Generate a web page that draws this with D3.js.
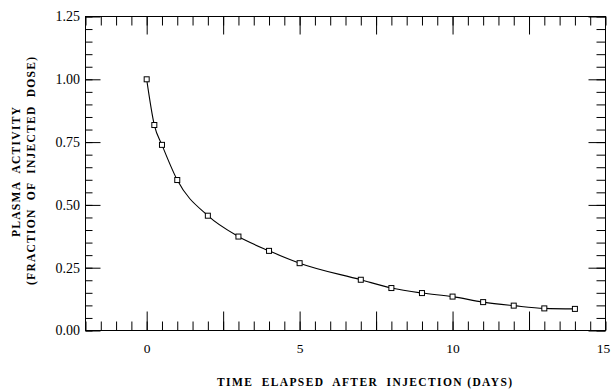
<!DOCTYPE html>
<html>
<head>
<meta charset="utf-8">
<script src="https://cdn.jsdelivr.net/npm/d3@7"></script>
<style>
  html, body { margin: 0; padding: 0; background: #fff; }
  svg { display: block; }
  text { font-family: "Liberation Serif", "Times New Roman", serif; fill: #000; }
</style>
</head>
<body>
<svg id="chart" width="611" height="391"></svg>
<script>
// ---- data ----
const days = [0, 0.25, 0.5, 1, 2, 3, 4, 5, 7, 8, 9, 10, 11, 12, 13, 14];
const activity = [1.00, 0.818, 0.739, 0.599, 0.457, 0.374, 0.317, 0.268, 0.202, 0.169, 0.149, 0.135, 0.113, 0.099, 0.088, 0.086];
const xTickLabels = [0, 5, 10, 15];
const xMajorTicks = [0, 2.5, 5, 7.5, 10, 12.5];
const yTickLabels = [0, 0.25, 0.5, 0.75, 1.0, 1.25];
const xTitle = "TIME  ELAPSED  AFTER  INJECTION (DAYS)";
const yTitle1 = "PLASMA  ACTIVITY";
const yTitle2 = "(FRACTION  OF  INJECTED  DOSE)";

// ---- layout ----
const L = 85.5, R = 605.5, T = 16.5, B = 330.5;
const svg = d3.select("#chart");

const x = d3.scaleLinear().domain([-2, 15]).range([L, R]);
const y = d3.scaleLinear().domain([0, 1.25]).range([B, T]);

const xMinor = d3.range(-4, 31).map(i => i / 2);
const yMinor = d3.range(0, 26).map(i => i / 20);

function styleAxis(g) {
  g.select(".domain").remove();
  g.attr("font-family", null);
  g.selectAll(".tick line").attr("stroke", "#000").attr("stroke-width", 1);
  g.selectAll("text").attr("fill", "#000");
}

// bottom ticks
svg.append("g").attr("transform", `translate(0,${B})`)
  .call(d3.axisBottom(x).tickValues(xMinor).tickSize(-9).tickFormat(""))
  .call(styleAxis);
svg.append("g").attr("transform", `translate(0,${B})`)
  .call(d3.axisBottom(x).tickValues(xMajorTicks).tickSize(-19).tickFormat(""))
  .call(styleAxis);
// top ticks
svg.append("g").attr("transform", `translate(0,${T})`)
  .call(d3.axisTop(x).tickValues(xMinor).tickSize(-9).tickFormat(""))
  .call(styleAxis);
svg.append("g").attr("transform", `translate(0,${T})`)
  .call(d3.axisTop(x).tickValues(xMajorTicks).tickSize(-18).tickFormat(""))
  .call(styleAxis);
// left ticks
svg.append("g").attr("transform", `translate(${L},0)`)
  .call(d3.axisLeft(y).tickValues(yMinor).tickSize(-7).tickFormat(""))
  .call(styleAxis);
svg.append("g").attr("transform", `translate(${L},0)`)
  .call(d3.axisLeft(y).tickValues(yTickLabels).tickSize(-15).tickFormat(""))
  .call(styleAxis);
// right ticks
svg.append("g").attr("transform", `translate(${R},0)`)
  .call(d3.axisRight(y).tickValues(yMinor).tickSize(-9).tickFormat(""))
  .call(styleAxis);
svg.append("g").attr("transform", `translate(${R},0)`)
  .call(d3.axisRight(y).tickValues(yTickLabels).tickSize(-17).tickFormat(""))
  .call(styleAxis);

// tick labels
const xLab = svg.append("g").attr("transform", `translate(0,${B})`)
  .call(d3.axisBottom(x).tickValues(xTickLabels).tickSize(0).tickPadding(13).tickFormat(d3.format("d")))
  .call(styleAxis);
xLab.selectAll("text").attr("font-size", 13.5)
  .attr("dx", d => d === 15 ? "-2.5" : "0");
svg.append("g").attr("transform", `translate(${L},0)`)
  .call(d3.axisLeft(y).tickValues(yTickLabels).tickSize(0).tickPadding(5.5).tickFormat(d3.format(".2f")))
  .call(styleAxis)
  .selectAll("text").attr("font-size", 14);

// frame
svg.append("rect")
  .attr("x", L).attr("y", T).attr("width", R - L).attr("height", B - T)
  .attr("fill", "none").attr("stroke", "#000").attr("stroke-width", 1);

// curve
const line = d3.line()
  .x((d, i) => x(days[i]))
  .y(d => y(d))
  .curve(d3.curveMonotoneX);
svg.append("path")
  .datum(activity)
  .attr("d", line)
  .attr("fill", "none")
  .attr("stroke", "#000")
  .attr("stroke-width", 1.1);

// markers
svg.append("g").selectAll("rect")
  .data(activity)
  .join("rect")
  .attr("x", (d, i) => x(days[i]) - 2.5)
  .attr("y", d => y(d) - 2.5)
  .attr("width", 5).attr("height", 5)
  .attr("fill", "#fff")
  .attr("stroke", "#000")
  .attr("stroke-width", 1);

// axis titles
svg.append("text")
  .attr("x", 217).attr("y", 385.5)
  .attr("font-size", 11.5).attr("font-weight", "bold")
  .attr("textLength", 295).attr("lengthAdjust", "spacing")
  .style("white-space", "pre")
  .text(xTitle);

svg.append("text")
  .attr("transform", "translate(20,237) rotate(-90)")
  .attr("font-size", 11.5).attr("font-weight", "bold")
  .attr("textLength", 130).attr("lengthAdjust", "spacing")
  .style("white-space", "pre")
  .text(yTitle1);
svg.append("text")
  .attr("transform", "translate(35,285) rotate(-90)")
  .attr("font-size", 11.5).attr("font-weight", "bold")
  .attr("textLength", 228).attr("lengthAdjust", "spacing")
  .style("white-space", "pre")
  .text(yTitle2);
</script>
</body>
</html>
